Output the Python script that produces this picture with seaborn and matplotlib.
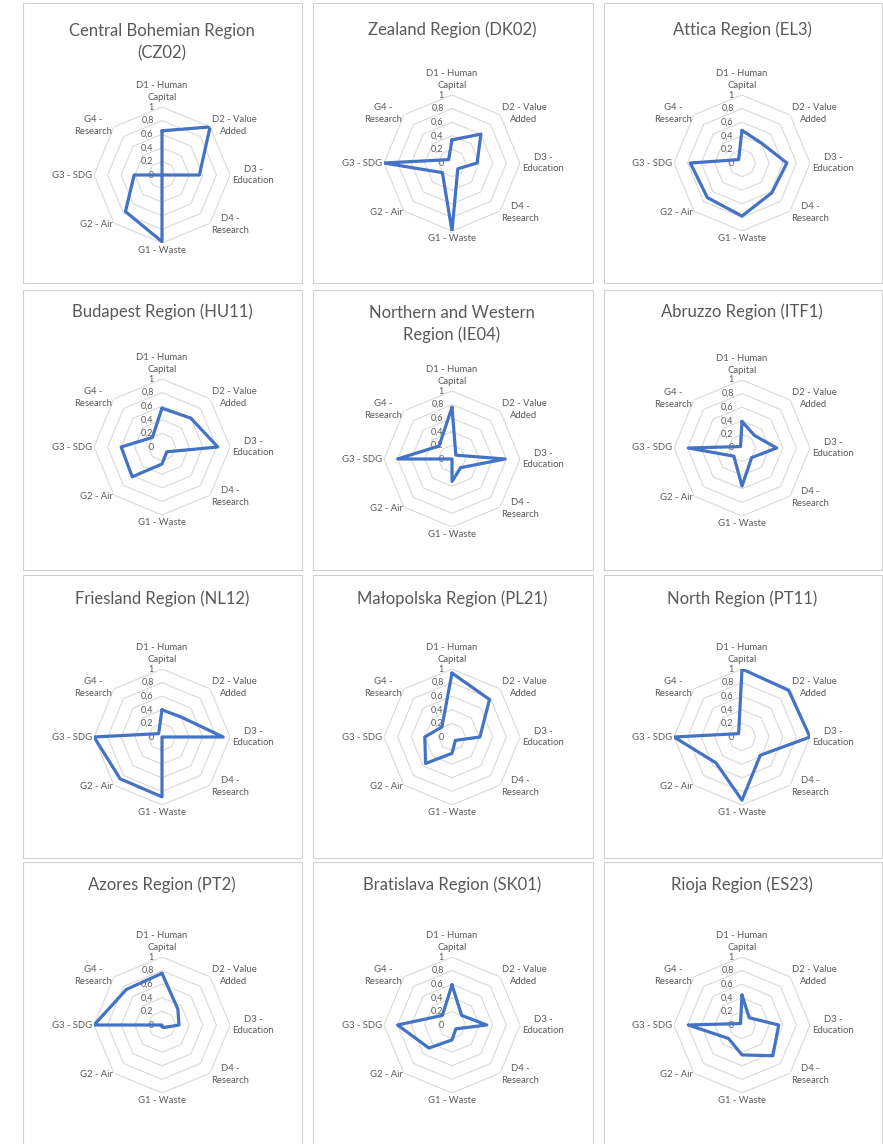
import numpy as np
import pandas as pd
import matplotlib
matplotlib.use("Agg")
import matplotlib.pyplot as plt
from matplotlib.patches import Rectangle
import seaborn as sns

# radar axes, clockwise from the top
CATEGORIES = ["D1 - Human\nCapital", "D2 - Value\nAdded", "D3 -\nEducation", "D4 -\nResearch",
              "G1 - Waste", "G2 - Air", "G3 - SDG", "G4 -\nResearch"]
R_TICKS = [0, 0.2, 0.4, 0.6, 0.8, 1.0]
R_TICK_LABELS = ["0", "0,2", "0,4", "0,6", "0,8", "1"]

TITLES = ["Central Bohemian Region\n(CZ02)", "Zealand Region (DK02)", "Attica Region (EL3)",
          "Budapest Region (HU11)", "Northern and Western\nRegion (IE04)", "Abruzzo Region (ITF1)",
          "Friesland Region (NL12)", "Małopolska Region (PL21)", "North Region (PT11)",
          "Azores Region (PT2)", "Bratislava Region (SK01)", "Rioja Region (ES23)"]

# scores per region, same order as CATEGORIES
cz02 = [0.65, 1.00, 0.55, 0.00, 0.98, 0.76, 0.41, 0.00]
dk02 = [0.34, 0.60, 0.37, 0.12, 1.00, 0.20, 1.00, 0.07]
el3 = [0.48, 0.41, 0.66, 0.62, 0.78, 0.72, 0.76, 0.07]
hu11 = [0.57, 0.60, 0.82, 0.10, 0.25, 0.62, 0.60, 0.20]
ie04 = [0.76, 0.08, 0.78, 0.18, 0.33, 0.00, 0.80, 0.27]
itf1 = [0.39, 0.26, 0.51, 0.20, 0.56, 0.17, 0.79, 0.03]
nl12 = [0.40, 0.41, 0.90, 0.00, 0.88, 0.87, 1.00, 0.07]
pl21 = [0.94, 0.78, 0.41, 0.07, 0.24, 0.55, 0.40, 0.21]
pt11 = [1.00, 0.97, 1.00, 0.38, 0.93, 0.54, 1.00, 0.07]
pt2 = [0.76, 0.33, 0.25, 0.05, 0.03, 0.00, 1.00, 0.74]
sk01 = [0.59, 0.20, 0.51, 0.08, 0.22, 0.48, 0.80, 0.20]
es23 = [0.44, 0.15, 0.54, 0.64, 0.44, 0.28, 0.79, 0.03]
REGIONS = [cz02, dk02, el3, hu11, ie04, itf1, nl12, pl21, pt11, pt2, sk01, es23]

# layout in pixels
W, H = 883, 1144
R_PX = 68
COL_CX = [162, 452, 742]
BOX_X = [(23, 302), (313, 593), (604, 882)]
BOX_Y = [(3, 283), (290, 570), (575, 858), (862, 1160)]
CENTER_Y = [[175, 163, 163], [447, 459, 448], [737, 737, 737], [1025, 1025, 1025]]
TITLE_Y = [[42, 30, 30], [312, 324, 312], [599, 599, 599], [885, 885, 885]]

# label placement per spoke: radius, ha, va
LABEL_POS = [(1.08, "center", "bottom"), (1.03, "left", "center"), (1.03, "left", "center"),
             (1.03, "left", "center"), (1.05, "center", "top"), (1.03, "right", "center"),
             (1.03, "right", "center"), (1.03, "right", "center")]

LINE_COLOR = "#4472C4"
GRID_COLOR = "#d9d9d9"
TEXT_COLOR = "#595959"

sns.set_theme(style="white")
plt.rcParams["font.family"] = ["Lato", "DejaVu Sans"]

fig = plt.figure(figsize=(W / 100, H / 100), dpi=100)
fig.patch.set_facecolor("white")

n = len(CATEGORIES)
theta = np.arange(n) * 2 * np.pi / n
theta_closed = np.append(theta, theta[0])

for idx, (title, vals) in enumerate(zip(TITLES, REGIONS)):
    row, col = divmod(idx, 3)
    x0, x1 = BOX_X[col]
    y0, y1 = BOX_Y[row]
    fig.patches.append(Rectangle((x0 / W, 1 - y1 / H), (x1 - x0) / W, (y1 - y0) / H,
                                 transform=fig.transFigure, fill=False,
                                 edgecolor="#d0d0d0", linewidth=0.8))
    cx = COL_CX[col]
    cy = CENTER_Y[row][col]
    fig.text(cx / W, 1 - TITLE_Y[row][col] / H, title, ha="center", va="center",
             fontsize=12, color=TEXT_COLOR, linespacing=1.45)

    ax = fig.add_axes([(cx - R_PX) / W, 1 - (cy + R_PX) / H, 2 * R_PX / W, 2 * R_PX / H],
                      projection="polar")
    ax.set_theta_zero_location("N")
    ax.set_theta_direction(-1)
    ax.patch.set_alpha(0)
    ax.grid(False)
    ax.spines["polar"].set_visible(False)

    for r in R_TICKS[1:]:
        ax.plot(theta_closed, [r] * (n + 1), color=GRID_COLOR, linewidth=0.8, zorder=1)

    df = pd.DataFrame({"theta": theta_closed, "score": vals + vals[:1]})
    sns.lineplot(data=df, x="theta", y="score", ax=ax, sort=False, estimator=None,
                 color=LINE_COLOR, linewidth=2.3, zorder=3)

    ax.set_ylim(0, 1)
    ax.set_xticks([])
    ax.set_yticks([])
    ax.set_xlabel("")
    ax.set_ylabel("")

    for r, lbl in zip(R_TICKS, R_TICK_LABELS):
        ax.annotate(lbl, xy=(0, r), xytext=(-6, 0), textcoords="offset points",
                    ha="right", va="center", fontsize=6.5, color=TEXT_COLOR, zorder=2)

    for t, lbl, (rl, ha, va) in zip(theta, CATEGORIES, LABEL_POS):
        ax.text(t, rl, lbl, ha=ha, va=va, fontsize=6.8, color=TEXT_COLOR,
                multialignment="center", linespacing=1.3)

fig.savefig("out.png", dpi=100, facecolor="white")
